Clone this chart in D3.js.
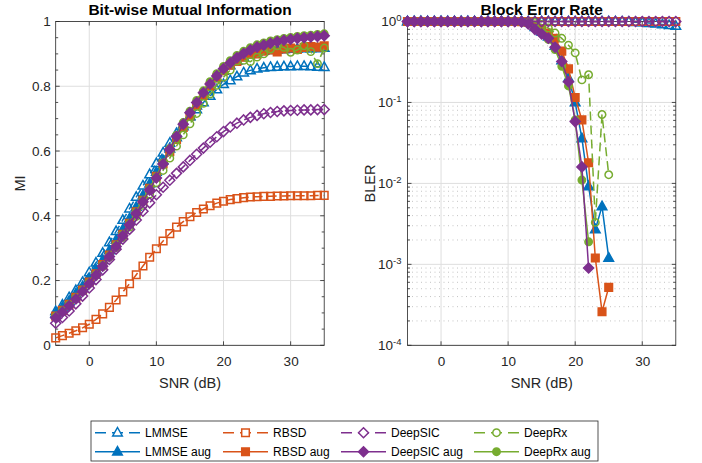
<!DOCTYPE html>
<html>
<head>
<meta charset="utf-8">
<script src="https://cdn.jsdelivr.net/npm/d3@7"></script>
<style>
body { margin: 0; background: #fff; }
svg { font-family: "Liberation Sans", Arial, Helvetica, sans-serif; }
</style>
</head>
<body>
<div id="chart"></div>
<script>
// DATA

let snr = [-5,-4,-3,-2,-1,0,1,2,3,4,5,6,7,8,9,10,11,12,13,14,15,16,17,18,19,20,21,22,23,24,25,26,27,28,29,30,31,32,33,34,35]

let miLmmse = [0.105,0.125,0.148,0.17,0.195,0.225,0.255,0.285,0.318,0.352,0.387,0.422,0.458,0.493,0.528,0.562,
    0.595,0.625,0.655,0.682,0.706,0.728,0.75,0.77,0.79,0.806,
    0.818,0.83,0.842,0.849,0.854,0.857,0.859,0.86,0.861,0.861,0.862,0.862,0.861,0.86,0.859]
let miLmmseAug = [0.098,0.117,0.137,0.159,0.182,0.207,0.234,0.263,0.293,0.325,0.358,0.392,0.427,0.463,0.499,0.535,
    0.571,0.607,0.642,0.676,0.708,0.74,0.772,0.8,0.826,0.847,
    0.864,0.878,0.89,0.899,0.905,0.909,0.911,0.913,0.914,0.915,0.916,0.917,0.917,0.917,0.918]
let miRbsd = [0.023,0.03,0.037,0.045,0.054,0.065,0.08,0.097,0.117,0.14,0.165,0.19,0.218,0.245,0.272,0.298,
    0.322,0.345,0.365,0.382,0.397,0.41,0.421,0.431,0.439,0.445,
    0.45,0.453,0.456,0.458,0.459,0.46,0.46,0.461,0.461,0.462,0.462,0.462,0.462,0.463,0.463]
let miRbsdAug = [0.09,0.108,0.127,0.148,0.171,0.195,0.221,0.249,0.279,0.31,0.343,0.377,0.412,0.448,0.485,0.522,
    0.56,0.598,0.636,0.673,0.708,0.741,0.772,0.8,0.826,0.848,
    0.865,0.877,0.89,0.898,0.9,0.908,0.912,0.906,0.915,0.918,0.914,0.92,0.923,0.921,0.925]
let miDeepSic = [0.068,0.086,0.106,0.128,0.152,0.177,0.203,0.233,0.265,0.297,0.328,0.358,0.387,0.414,0.44,0.465,
    0.488,0.51,0.531,0.551,0.571,0.59,0.609,0.627,0.644,0.66,
    0.674,0.686,0.696,0.704,0.71,0.715,0.719,0.722,0.724,0.725,0.726,0.727,0.727,0.728,0.728]
let miDeepSicAug = [0.085,0.103,0.122,0.143,0.166,0.19,0.216,0.244,0.274,0.305,0.338,0.372,0.407,0.443,0.48,0.517,
    0.56,0.605,0.645,0.683,0.718,0.75,0.78,0.807,0.832,0.854,
    0.872,0.888,0.901,0.912,0.921,0.927,0.933,0.938,0.942,0.945,0.948,0.95,0.952,0.954,0.956]
let miDeepRx = [0.088,0.105,0.124,0.145,0.167,0.191,0.216,0.243,0.272,0.302,0.333,0.365,0.398,0.432,0.467,0.502,
    0.54,0.578,0.615,0.65,0.684,0.716,0.747,0.776,0.803,0.828,
    0.85,0.878,0.88,0.876,0.89,0.9,0.915,0.925,0.92,0.905,0.912,0.925,0.907,0.87,0.918]
let miDeepRxAug = [0.088,0.106,0.125,0.146,0.169,0.193,0.219,0.247,0.277,0.309,0.342,0.376,0.411,0.447,0.484,0.521,
    0.563,0.608,0.649,0.688,0.723,0.756,0.786,0.814,0.839,0.861,
    0.879,0.895,0.908,0.919,0.928,0.934,0.94,0.944,0.948,0.951,0.954,0.956,0.958,0.96,0.962]

// BLER, null = no block errors (not drawn on log axis)
let blerLmmse = [1,1,1,1,1,1,1,1,1,1,1,1,1,1,1,1,1,1,1,1,1,1,1,1,1,1,1,1,1,1,1,
    0.998,0.995,0.99,0.98,0.97,0.955,0.94,0.92,0.9,0.88]
let blerLmmseAug = [1,1,1,1,1,1,1,1,1,1,1,1,1,1,1,1,1,0.99,
    0.97,0.85,0.75,0.65,0.5,0.33,0.2,0.1,0.036,0.0092,0.0027,0.0052,0.0012,
    null,null,null,null,null,null,null,null,null,null]
let blerRbsd = [1,1,1,1,1,1,1,1,1,1,1,1,1,1,1,1,1,1,1,1,1,1,1,1,1,1,1,1,1,1,1,1,1,1,1,1,1,1,1,1,1]
let blerRbsdAug = [1,1,1,1,1,1,1,1,1,1,1,1,1,1,1,1,1,0.995,
    0.98,0.9,0.82,0.72,0.62,0.43,0.26,0.115,0.061,0.018,0.0012,0.00026,0.00052,
    null,null,null,null,null,null,null,null,null,null]
let blerDeepSic = [1,1,1,1,1,1,1,1,1,1,1,1,1,1,1,1,1,1,1,1,1,1,1,1,1,1,1,1,1,1,1,1,1,1,1,1,1,1,1,1,1]
let blerDeepSicAug = [1,1,1,1,1,1,1,1,1,1,1,1,1,1,1,1,1,0.99,
    0.93,0.8,0.7,0.62,0.48,0.32,0.18,0.058,0.016,0.0009,
    null,null,null,null,null,null,null,null,null,null,null,null,null]
let blerDeepRx = [1,1,1,1,1,1,1,1,1,1,1,1,1,1,1,1,1,1,
    1,0.97,0.92,0.83,0.72,0.62,0.51,0.41,0.19,0.22,0.0033,0.071,0.0128,
    null,null,null,null,null,null,null,null,null,null]
let blerDeepRxAug = [1,1,1,1,1,1,1,1,1,1,1,1,1,1,1,1,1,0.99,
    0.95,0.82,0.72,0.6,0.45,0.28,0.16,0.061,0.011,0.0019,
    null,null,null,null,null,null,null,null,null,null,null,null,null]

let snrTicks = [0, 10, 20, 30]
let miTicks = [0, 0.2, 0.4, 0.6, 0.8, 1]
let miMinorTicks = [0.05,0.1,0.15,0.25,0.3,0.35,0.45,0.5,0.55,0.65,0.7,0.75,0.85,0.9,0.95]
let blerTicks = [1e-4, 1e-3, 1e-2, 1e-1, 1]
let blerMinorTicks = [2,3,4,5,6,7,8,9]

let seriesNames = ["LMMSE", "LMMSE aug", "RBSD", "RBSD aug", "DeepSIC", "DeepSIC aug", "DeepRx", "DeepRx aug"]
let seriesColors = ["#0072BD", "#0072BD", "#D95319", "#D95319", "#7E2F8E", "#7E2F8E", "#77AC30", "#77AC30"]
let seriesMarkers = ["triangle", "triangle", "square", "square", "diamond", "diamond", "circle", "circle"]
let miSeries = [miLmmse, miLmmseAug, miRbsd, miRbsdAug, miDeepSic, miDeepSicAug, miDeepRx, miDeepRxAug]
let blerSeries = [blerLmmse, blerLmmseAug, blerRbsd, blerRbsdAug, blerDeepSic, blerDeepSicAug, blerDeepRx, blerDeepRxAug]
let drawOrder = [0, 1, 2, 3, 6, 7, 4, 5]

// CHART AREA

let svg = d3.select("#chart").append("svg")
    .attr("width", 702)
    .attr("height", 463)

let axisColor = "#262626"
let plotTop = 21.5, plotBottom = 345.3

let xMi = d3.scaleLinear().domain([-5, 35]).range([55.7, 324.2])
let yMi = d3.scaleLinear().domain([0, 1]).range([plotBottom, plotTop])
let xBler = d3.scaleLinear().domain([-5, 35]).range([407.5, 675.8])
let yBler = d3.scaleLog().domain([1e-4, 1]).range([plotBottom, plotTop])

function markerPath(type) {
    if (type == "triangle") return "M0,-5.2L4.8,3.3L-4.8,3.3Z"
    if (type == "square") return "M-3.8,-3.8H3.8V3.8H-3.8Z"
    if (type == "diamond") return "M0,-5L5,0L0,5L-5,0Z"
    return "M3.7,0A3.7,3.7 0 1,1 -3.7,0A3.7,3.7 0 1,1 3.7,0Z"
}

function drawFrame(x, y, yTicks, yMinor, isLog) {
    let g = svg.append("g")
    let x0 = x.range()[0], x1 = x.range()[1]

    // grid
    if (isLog) {
        yTicks.slice(0, -1).forEach(t => {
            yMinor.forEach(m => {
                g.append("line")
                    .attr("x1", x0).attr("x2", x1)
                    .attr("y1", y(t * m)).attr("y2", y(t * m))
                    .attr("stroke", "#c4c4c4").attr("stroke-width", 1)
                    .attr("stroke-dasharray", "1,3.5")
            })
        })
    }
    snrTicks.forEach(t => {
        g.append("line")
            .attr("x1", x(t)).attr("x2", x(t))
            .attr("y1", plotTop).attr("y2", plotBottom)
            .attr("stroke", "#dedede").attr("stroke-width", 1)
    })
    yTicks.forEach(t => {
        g.append("line")
            .attr("x1", x0).attr("x2", x1)
            .attr("y1", y(t)).attr("y2", y(t))
            .attr("stroke", "#dedede").attr("stroke-width", 1)
    })

    // ticks
    let minorVals = isLog ? yTicks.slice(0, -1).flatMap(t => yMinor.map(m => t * m)) : yMinor
    minorVals.forEach(v => {
        g.append("line").attr("x1", x0).attr("x2", x0 + 2.5).attr("y1", y(v)).attr("y2", y(v))
            .attr("stroke", axisColor).attr("stroke-width", 0.8)
        g.append("line").attr("x1", x1).attr("x2", x1 - 2.5).attr("y1", y(v)).attr("y2", y(v))
            .attr("stroke", axisColor).attr("stroke-width", 0.8)
    })
    yTicks.forEach(v => {
        g.append("line").attr("x1", x0).attr("x2", x0 + 4).attr("y1", y(v)).attr("y2", y(v))
            .attr("stroke", axisColor).attr("stroke-width", 0.8)
        g.append("line").attr("x1", x1).attr("x2", x1 - 4).attr("y1", y(v)).attr("y2", y(v))
            .attr("stroke", axisColor).attr("stroke-width", 0.8)
    })
    snrTicks.forEach(v => {
        g.append("line").attr("x1", x(v)).attr("x2", x(v)).attr("y1", plotBottom).attr("y2", plotBottom - 4)
            .attr("stroke", axisColor).attr("stroke-width", 0.8)
        g.append("line").attr("x1", x(v)).attr("x2", x(v)).attr("y1", plotTop).attr("y2", plotTop + 4)
            .attr("stroke", axisColor).attr("stroke-width", 0.8)
    })

    g.append("rect")
        .attr("x", x0).attr("y", plotTop)
        .attr("width", x1 - x0).attr("height", plotBottom - plotTop)
        .attr("fill", "none").attr("stroke", axisColor).attr("stroke-width", 0.8)

    // labels
    let xAxis = svg.append("g")
        .attr("transform", "translate(0," + plotBottom + ")")
        .call(d3.axisBottom(x).tickValues(snrTicks).tickSize(0).tickPadding(11).tickFormat(d3.format("d")))
    xAxis.select(".domain").remove()
    xAxis.selectAll("text").attr("font-size", 13.5).attr("fill", axisColor).attr("font-family", null)

    let yAxis = svg.append("g")
        .attr("transform", "translate(" + x0 + ",0)")
        .call(d3.axisLeft(y).tickValues(yTicks).tickSize(0).tickPadding(isLog ? 6 : 5)
            .tickFormat(isLog ? () => "" : d => String(d)))
    yAxis.select(".domain").remove()
    yAxis.selectAll("text").attr("font-size", 13.5).attr("fill", axisColor).attr("font-family", null)
    if (isLog) {
        yAxis.selectAll("text").each(function (d) {
            let t = d3.select(this)
            t.append("tspan").text("10")
            t.append("tspan").attr("dy", "-0.55em").attr("font-size", 9.5)
                .text(String(Math.round(Math.log10(d))).replace("\u2212", "-"))
        })
    }
    return g
}

function drawSeries(x, y, values, i) {
    let color = seriesColors[i]
    let dashed = i % 2 == 0
    let pts = snr.map((s, j) => ({s: s, v: values[j]})).filter(d => d.v != null)

    let line = d3.line()
        .x(d => x(d.s))
        .y(d => y(d.v))

    svg.append("path")
        .datum(pts)
        .attr("d", line)
        .attr("fill", "none")
        .attr("stroke", color)
        .attr("stroke-width", 1.5)
        .attr("stroke-dasharray", dashed ? "9,5" : null)

    svg.selectAll(null)
        .data(pts)
        .enter()
        .append("path")
        .attr("d", markerPath(seriesMarkers[i]))
        .attr("transform", d => "translate(" + x(d.s) + "," + y(d.v) + ")")
        .attr("fill", dashed ? "none" : color)
        .attr("stroke", color)
        .attr("stroke-width", 1.5)
}

drawFrame(xMi, yMi, miTicks, miMinorTicks, false)
drawFrame(xBler, yBler, blerTicks, blerMinorTicks, true)

drawOrder.forEach(i => {
    drawSeries(xMi, yMi, miSeries[i], i)
    drawSeries(xBler, yBler, blerSeries[i], i)
})

// titles and axis labels
svg.append("text").attr("x", 190).attr("y", 14.5).attr("text-anchor", "middle")
    .attr("font-size", 15.5).attr("font-weight", "bold").attr("fill", "#000")
    .text("Bit-wise Mutual Information")
svg.append("text").attr("x", 541.7).attr("y", 14.5).attr("text-anchor", "middle")
    .attr("font-size", 15.5).attr("font-weight", "bold").attr("fill", "#000")
    .text("Block Error Rate")

svg.append("text").attr("x", 190).attr("y", 388).attr("text-anchor", "middle")
    .attr("font-size", 14.5).attr("fill", axisColor).text("SNR (dB)")
svg.append("text").attr("x", 541.7).attr("y", 388).attr("text-anchor", "middle")
    .attr("font-size", 14.5).attr("fill", axisColor).text("SNR (dB)")

svg.append("text").attr("transform", "translate(25,183.5) rotate(-90)").attr("text-anchor", "middle")
    .attr("font-size", 14.5).attr("fill", axisColor).text("MI")
svg.append("text").attr("transform", "translate(375,183.5) rotate(-90)").attr("text-anchor", "middle")
    .attr("font-size", 14.5).attr("fill", axisColor).text("BLER")

// LEGEND

let legend = svg.append("g")
legend.append("rect")
    .attr("x", 91).attr("y", 421)
    .attr("width", 507).attr("height", 40)
    .attr("fill", "#fff").attr("stroke", axisColor).attr("stroke-width", 0.8)

let legendCols = [95, 223, 341, 474]
let legendRows = [432.7, 451.7]

seriesNames.forEach((name, i) => {
    let col = Math.floor(i / 2), row = i % 2
    let lx = legendCols[col], ly = legendRows[row]
    let color = seriesColors[i]
    let dashed = row == 0
    legend.append("line")
        .attr("x1", lx).attr("x2", lx + 45)
        .attr("y1", ly).attr("y2", ly)
        .attr("stroke", color).attr("stroke-width", 1.5)
        .attr("stroke-dasharray", dashed ? "11,6" : null)
    legend.append("path")
        .attr("d", markerPath(seriesMarkers[i]))
        .attr("transform", "translate(" + (lx + 22.5) + "," + ly + ")")
        .attr("fill", dashed ? "#fff" : color)
        .attr("stroke", color).attr("stroke-width", 1.5)
    legend.append("text")
        .attr("x", lx + 50).attr("y", ly).attr("dy", "0.36em")
        .attr("font-size", 12).attr("fill", "#000")
        .text(name)
})
</script>
</body>
</html>
